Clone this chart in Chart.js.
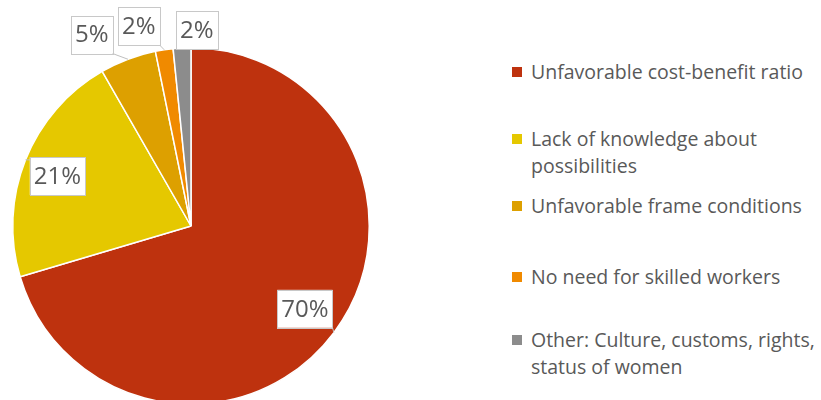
<!DOCTYPE html>
<html>
<head>
<meta charset="utf-8">
<script src="https://cdn.jsdelivr.net/npm/chart.js@4.4.1/dist/chart.umd.min.js"></script>
<style>
  html, body { margin: 0; padding: 0; background: #fff; overflow: hidden; }
  body { width: 821px; height: 400px; position: relative; font-family: "Open Sans", sans-serif; }
  #pieWrap { position: absolute; left: 0; top: 0; width: 400px; height: 420px; }
  #legend { position: absolute; left: 512px; top: 0; width: 308px; }
  .li { position: absolute; left: 0; padding-left: 19px; font-size: 19.5px; line-height: 27px; color: #595959; }
  .li .sw { position: absolute; left: 0; top: 9px; width: 10px; height: 10px; }
</style>
</head>
<body>
<div id="pieWrap"><canvas id="pie"></canvas></div>
<div id="legend"></div>
<script>
/* ---- 데이터 ---- */
const labels = [
  "Unfavorable cost-benefit ratio",
  "Lack of knowledge about possibilities",
  "Unfavorable frame conditions",
  "No need for skilled workers",
  "Other: Culture, customs, rights, status of women"
];
const values = [70.4, 21.3, 5.1, 1.6, 1.6];
const colors = ["#BE320E", "#E5C800", "#DDA000", "#F08A00", "#8C8C8C"];

/* 라벨 위치 보정 (반지름 배율, 각도 이동 °) */
const labelRadius = [0.79, 0.80, 1.21, 1.16, 1.10];
const labelShift  = [-0.7, -1.3, -6.7, -6.0, 4.6];
/* 범례 항목 top(px) */
const legendTops = [58, 125, 192, 263, 326];

const total = values.reduce((a, b) => a + b, 0);

/* ---- 범례 ---- */
document.getElementById("legend").innerHTML = labels.map((l, i) =>
  `<div class="li" style="top:${legendTops[i]}px;"><span class="sw" style="background:${colors[i]}"></span>${l}</div>`).join("");

/* ---- 퍼센트 라벨 플러그인 ---- */
const pctLabels = {
  id: "pctLabels",
  afterDraw(chart) {
    const ctx = chart.ctx;
    const meta = chart.getDatasetMeta(0);
    ctx.save();
    ctx.font = '24px "Open Sans", sans-serif';
    ctx.textAlign = "center";
    ctx.textBaseline = "middle";
    meta.data.forEach((arc, i) => {
      const { x, y, startAngle, endAngle, outerRadius } = arc.getProps(["x", "y", "startAngle", "endAngle", "outerRadius"], true);
      const mid = (startAngle + endAngle) / 2;
      const a = mid + labelShift[i] * Math.PI / 180;
      const r = outerRadius * labelRadius[i];
      const cx = x + Math.cos(a) * r, cy = y + Math.sin(a) * r;
      const txt = Math.round(values[i] / total * 100) + "%";
      const w = ctx.measureText(txt).width + 8, h = 38;
      const bx = cx - w / 2, by = cy - h / 2;
      // 지시선
      const ex = x + Math.cos(mid) * outerRadius, ey = y + Math.sin(mid) * outerRadius;
      const nx = Math.max(bx, Math.min(ex, bx + w)), ny = Math.max(by, Math.min(ey, by + h));
      if (Math.hypot(ex - nx, ey - ny) > 3) {
        ctx.strokeStyle = "#bfbfbf"; ctx.lineWidth = 1;
        ctx.beginPath(); ctx.moveTo(nx, ny); ctx.lineTo(ex, ey); ctx.stroke();
      }
      ctx.fillStyle = "#fff";
      ctx.fillRect(bx, by, w, h);
      ctx.strokeStyle = "#c8c8c8"; ctx.lineWidth = 1;
      ctx.strokeRect(Math.round(bx) + 0.5, Math.round(by) + 0.5, Math.round(w), h);
      ctx.fillStyle = "#595959";
      ctx.fillText(txt, cx, cy + 1);
    });
    ctx.restore();
  }
};

new Chart(document.getElementById("pie"), {
  type: "pie",
  data: {
    labels,
    datasets: [{ data: values, backgroundColor: colors, borderColor: "#ffffff", borderWidth: 1.5 }]
  },
  options: {
    responsive: true, maintainAspectRatio: false, animation: false,
    layout: { padding: { left: 12, right: 30, top: 47, bottom: 15 } },
    plugins: { legend: { display: false }, tooltip: { enabled: false } }
  },
  plugins: [pctLabels]
});
</script>
</body>
</html>
